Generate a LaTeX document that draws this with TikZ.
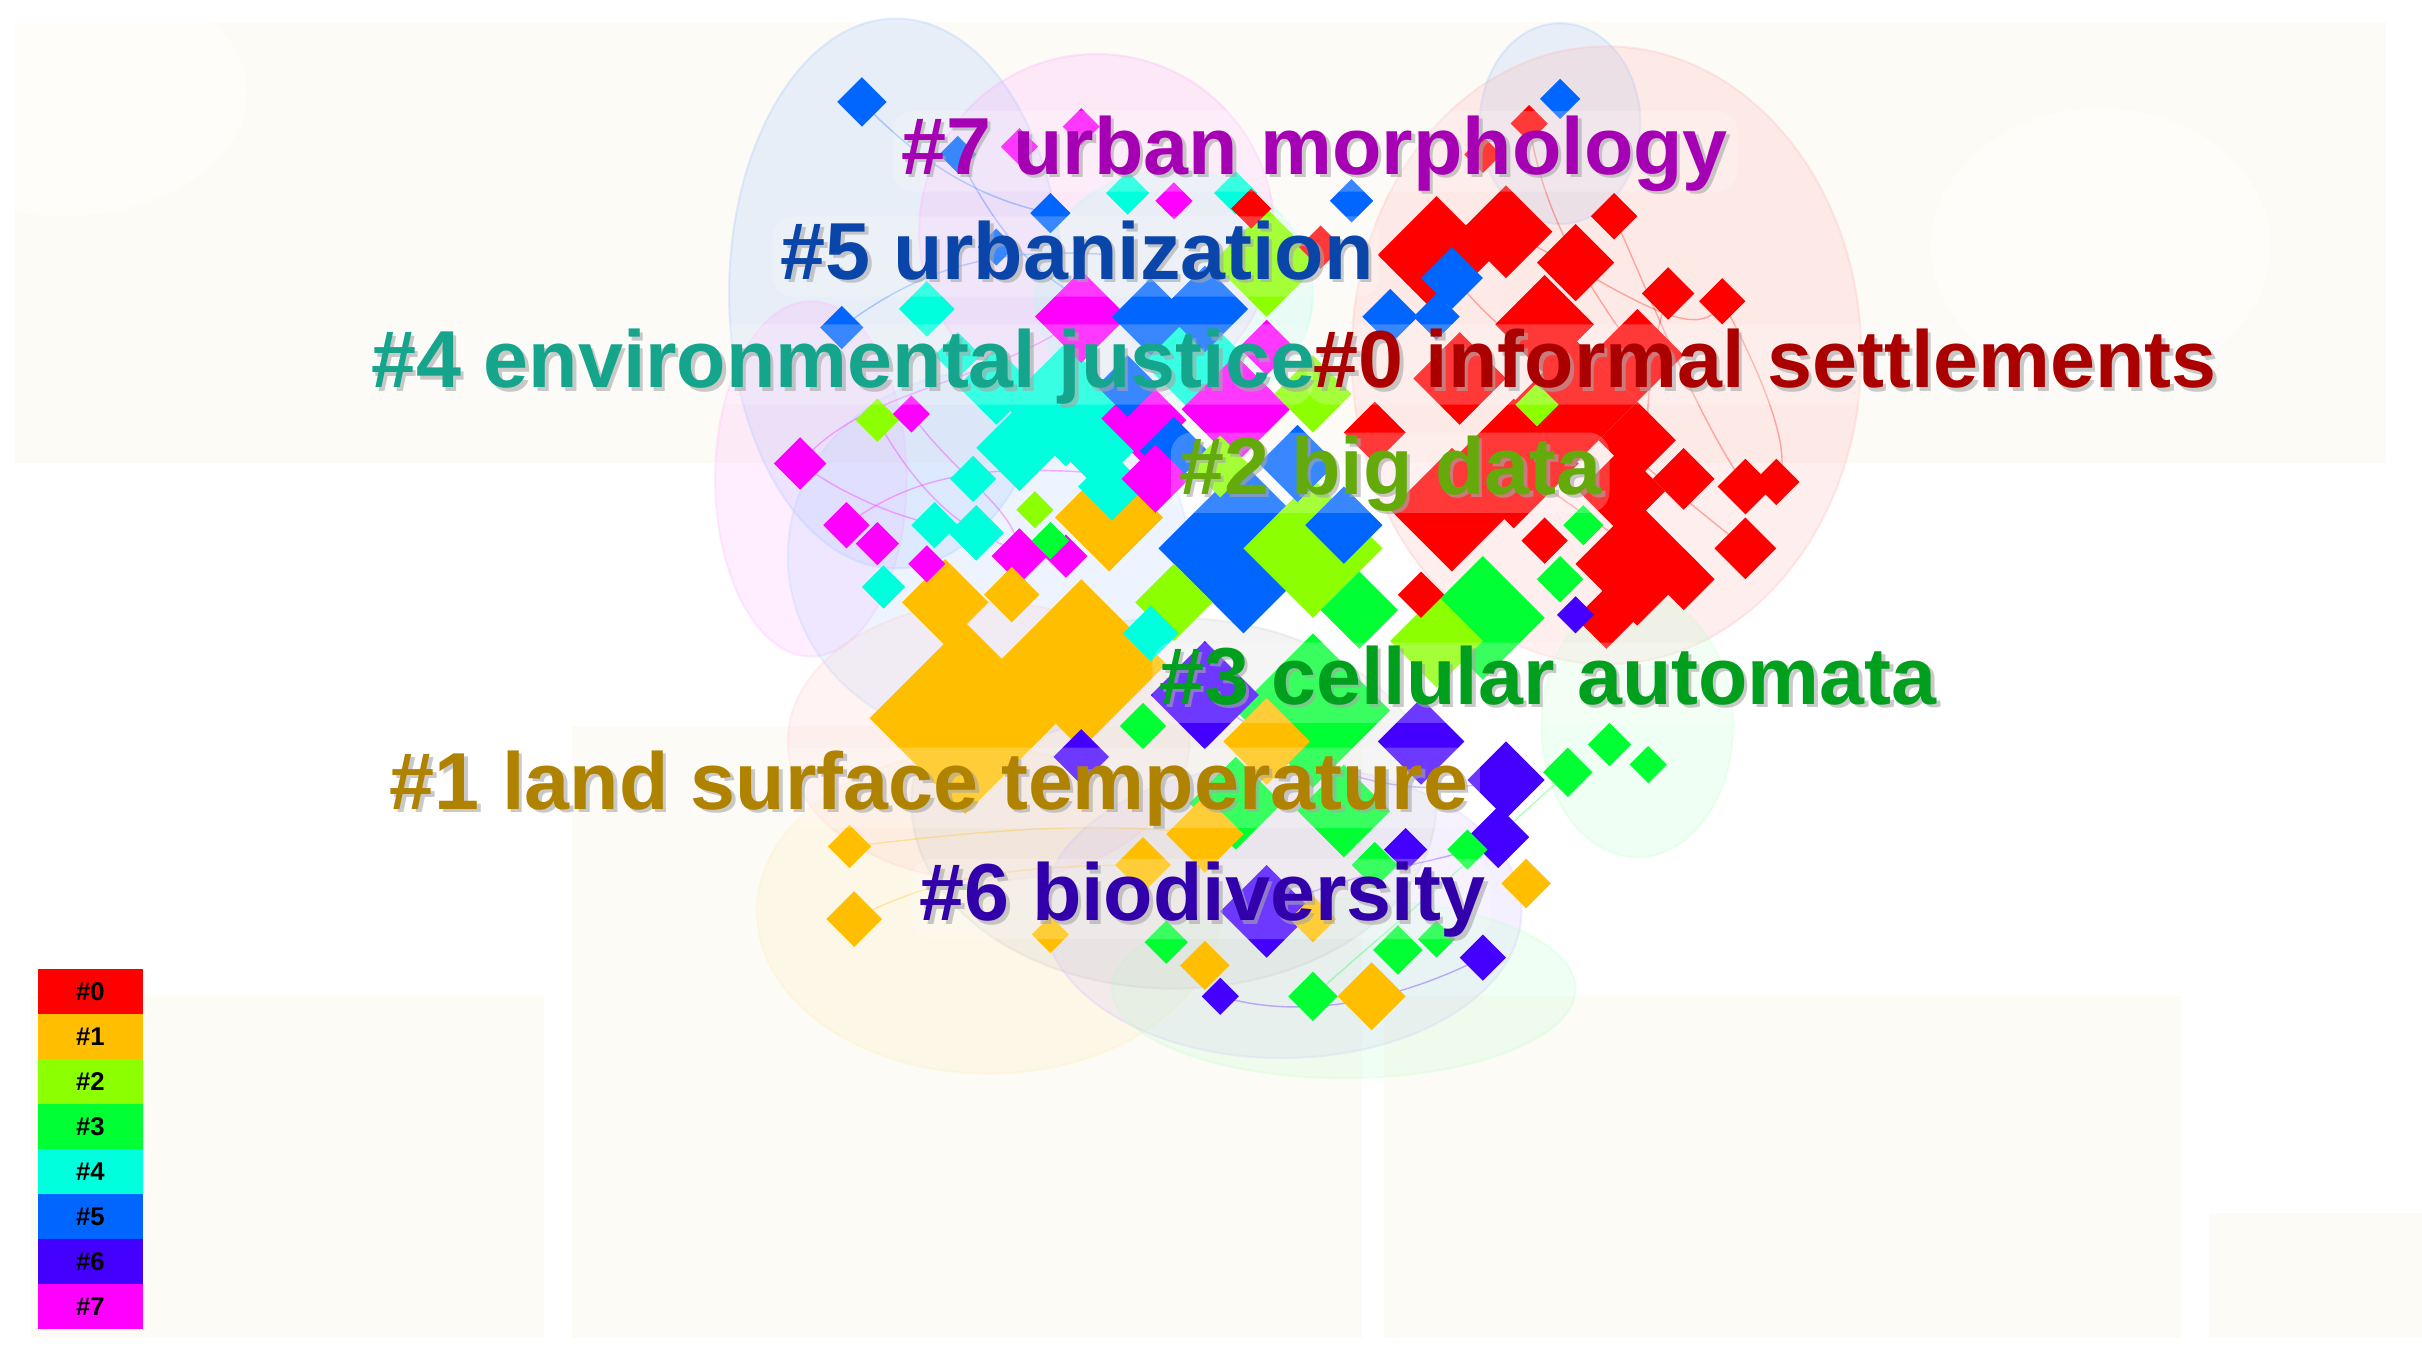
\documentclass[tikz,border=0pt]{standalone}
\usepackage{fontspec}
\setmainfont{Liberation Sans}
\setsansfont{Liberation Sans}
\begin{document}
\definecolor{cA}{HTML}{FF0000}
\definecolor{cB}{HTML}{FFBF00}
\definecolor{cC}{HTML}{8CFF00}
\definecolor{cD}{HTML}{00FF33}
\definecolor{cE}{HTML}{00FFDD}
\definecolor{cF}{HTML}{0066FF}
\definecolor{cG}{HTML}{4400FF}
\definecolor{cH}{HTML}{FF00FF}
\definecolor{tA}{HTML}{AA0000}
\definecolor{tB}{HTML}{AF8200}
\definecolor{tC}{HTML}{64AA0A}
\definecolor{tD}{HTML}{00A01E}
\definecolor{tE}{HTML}{14A58C}
\definecolor{tF}{HTML}{0A46AA}
\definecolor{tG}{HTML}{3200AA}
\definecolor{tH}{HTML}{A500B4}
\definecolor{cream}{RGB}{253,251,246}
\newcommand\dm[4]{\fill[#4] (#1,#2) +(-#3,0) -- +(0,-#3) -- +(#3,0) -- +(0,#3) -- cycle;}
\begin{tikzpicture}[x=0.015446cm,y=-0.015446cm,
  hull/.style={fill=#1,fill opacity=0.22,draw=#1,draw opacity=0.25,line width=0.6pt},
  edge/.style={draw=#1,opacity=0.3,line width=0.4pt},
  lbl/.style={anchor=base west,inner sep=0pt,font=\fontsize{23}{23}\selectfont\bfseries},
  lblbox/.style={fill=white,fill opacity=0.22,rounded corners=6pt},
  leg/.style={minimum width=68*0.015446cm,minimum height=29.1*0.015446cm,inner sep=0pt,font=\fontsize{7.3}{7.3}\selectfont\bfseries}]
\useasboundingbox (0,0) rectangle (1568,873);
\fill[white] (0,0) rectangle (1568,873);
% faint background panels
\fill[cream] (10,14) rectangle (1545,300);
\fill[cream] (20,645) rectangle (352,866);
\fill[cream] (370,470) rectangle (882,866);
\fill[cream] (896,645) rectangle (1412,866);
\fill[cream] (1430,785) rectangle (1568,866);
\fill[white,opacity=0.5] (40,60) ellipse (120 and 80);
\fill[white,opacity=0.5] (1360,160) ellipse (110 and 90);
% cluster hulls
\fill[hull=cF!40] (580,190) ellipse (108 and 178);
\fill[hull=cF!40] (1010,80) ellipse (52 and 65);
\fill[hull=cH!35] (710,150) ellipse (115 and 115);
\fill[hull=cE!35] (760,190) ellipse (90 and 80);
\fill[hull=cA!30] (1040,230) ellipse (165 and 200);
\fill[hull=cH!30] (525,310) ellipse (62 and 115);
\fill[hull=cF!30] (640,360) ellipse (130 and 120);
\fill[hull=cB!30] (640,590) ellipse (150 and 105);
\fill[hull=cA!20] (640,480) ellipse (130 and 90);
\fill[hull=cD!25] (1060,470) ellipse (62 and 85);
\fill[hull=cG!25] (830,590) ellipse (155 and 95);
\fill[hull=cD!25] (870,640) ellipse (150 and 58);
\fill[hull=gray!40] (760,520) ellipse (170 and 120);
% faint links
\draw[edge=cF] (558,66) .. controls (600,110) and (640,130) .. (680,138);
\draw[edge=cF] (545,212) .. controls (600,170) and (650,160) .. (720,165);
\draw[edge=cF] (620,100) .. controls (660,180) and (700,200) .. (745,205);
\draw[edge=cH] (518,300) .. controls (560,250) and (640,250) .. (700,205);
\draw[edge=cH] (548,340) .. controls (600,300) and (660,300) .. (748,310);
\draw[edge=cH] (568,272) .. controls (600,330) and (640,360) .. (690,360);
\draw[edge=cH] (590,268) .. controls (620,310) and (660,330) .. (660,360);
\draw[edge=cH] (518,300) .. controls (560,330) and (600,340) .. (632,345);
\draw[edge=cA] (990,80) .. controls (1000,150) and (1040,200) .. (1060,230);
\draw[edge=cA] (1045,140) .. controls (1080,220) and (1100,270) .. (1130,315);
\draw[edge=cA] (975,150) .. controls (1040,180) and (1100,230) .. (1115,195);
\draw[edge=cA] (1020,260) .. controls (1060,300) and (1100,330) .. (1130,355);
\draw[edge=cA] (980,300) .. controls (1020,330) and (1050,350) .. (1090,375);
\draw[edge=cA] (1080,190) .. controls (1060,250) and (1070,300) .. (1060,365);
\draw[edge=cA] (930,165) .. controls (970,220) and (1000,230) .. (1060,285);
\draw[edge=cA] (1115,195) .. controls (1150,260) and (1160,300) .. (1150,312);
\draw[edge=cG] (780,450) .. controls (850,500) and (900,520) .. (975,505);
\draw[edge=cG] (820,590) .. controls (880,560) and (940,560) .. (970,542);
\draw[edge=cD] (850,645) .. controls (900,600) and (950,560) .. (1015,500);
\draw[edge=cB] (553,595) .. controls (600,570) and (650,560) .. (740,560);
\draw[edge=cB] (550,548) .. controls (620,540) and (700,530) .. (780,540);
\draw[edge=cG] (790,645) .. controls (840,660) and (900,650) .. (960,620);
% diamonds - large first
\dm{625}{465}{62}{cB}
\dm{700}{430}{55}{cB}
\dm{805}{355}{55}{cF}
\dm{850}{460}{50}{cD}
\dm{850}{355}{45}{cC}
\dm{690}{262}{40}{cE}
\dm{960}{400}{40}{cD}
\dm{1020}{260}{40}{cA}
\dm{980}{300}{42}{cA}
\dm{940}{330}{40}{cA}
\dm{1060}{365}{40}{cA}
\dm{930}{165}{38}{cA}
\dm{1000}{210}{32}{cA}
\dm{945}{245}{30}{cA}
\dm{1050}{318}{28}{cA}
\dm{820}{170}{35}{cC}
\dm{770}{230}{35}{cE}
\dm{780}{200}{28}{cF}
\dm{800}{265}{35}{cH}
\dm{740}{272}{28}{cH}
\dm{645}{250}{25}{cE}
\dm{710}{292}{24}{cE}
\dm{760}{292}{22}{cF}
\dm{840}{300}{25}{cF}
\dm{790}{302}{20}{cC}
\dm{718}{335}{35}{cB}
\dm{780}{450}{35}{cG}
\dm{975}{150}{30}{cA}
\dm{1060}{230}{30}{cA}
\dm{700}{205}{30}{cH}
\dm{930}{415}{30}{cC}
\dm{800}{520}{30}{cD}
\dm{870}{525}{30}{cD}
\dm{820}{480}{28}{cB}
\dm{820}{590}{30}{cG}
\dm{920}{480}{28}{cG}
\dm{612}{390}{28}{cB}
\dm{660}{290}{28}{cE}
\dm{1020}{170}{25}{cA}
\dm{1060}{285}{25}{cA}
\dm{745}{205}{25}{cF}
\dm{850}{255}{25}{cC}
\dm{870}{340}{25}{cF}
\dm{760}{390}{25}{cC}
\dm{880}{395}{25}{cD}
\dm{975}{505}{25}{cG}
\dm{780}{540}{25}{cB}
\dm{720}{315}{22}{cE}
\dm{748}{310}{22}{cH}
\dm{888}{645}{22}{cB}
\dm{940}{180}{20}{cF}
\dm{900}{205}{18}{cF}
\dm{730}{250}{20}{cF}
\dm{820}{225}{18}{cH}
\dm{890}{280}{20}{cA}
\dm{1090}{310}{20}{cA}
\dm{1130}{355}{20}{cA}
\dm{1090}{375}{20}{cA}
\dm{1040}{400}{20}{cA}
\dm{970}{542}{20}{cG}
\dm{600}{200}{18}{cE}
\dm{632}{345}{18}{cE}
\dm{660}{360}{18}{cH}
\dm{655}{385}{18}{cB}
\dm{745}{410}{18}{cE}
\dm{1130}{315}{18}{cA}
\dm{700}{490}{18}{cG}
\dm{553}{595}{18}{cB}
\dm{740}{560}{18}{cB}
\dm{1080}{190}{17}{cA}
\dm{518}{300}{17}{cH}
\dm{558}{66}{16}{cF}
\dm{1015}{500}{16}{cD}
\dm{988}{572}{16}{cB}
\dm{905}{615}{16}{cD}
\dm{850}{645}{16}{cD}
\dm{780}{625}{16}{cB}
\dm{1115}{195}{15}{cA}
\dm{1045}{140}{15}{cA}
\dm{1150}{312}{15}{cA}
\dm{1000}{350}{15}{cA}
\dm{920}{385}{15}{cA}
\dm{930}{205}{15}{cF}
\dm{620}{230}{15}{cE}
\dm{605}{340}{15}{cE}
\dm{630}{310}{15}{cE}
\dm{548}{340}{15}{cH}
\dm{1010}{375}{15}{cD}
\dm{740}{470}{15}{cD}
\dm{960}{620}{15}{cG}
\dm{890}{560}{15}{cD}
\dm{850}{595}{15}{cB}
\dm{855}{160}{14}{cA}
\dm{545}{212}{14}{cF}
\dm{875}{130}{14}{cF}
\dm{730}{125}{14}{cE}
\dm{800}{125}{14}{cE}
\dm{568}{272}{14}{cC}
\dm{568}{352}{14}{cH}
\dm{572}{380}{14}{cE}
\dm{690}{360}{14}{cH}
\dm{995}{262}{14}{cC}
\dm{1042}{482}{14}{cD}
\dm{550}{548}{14}{cB}
\dm{755}{610}{14}{cD}
\dm{910}{550}{14}{cG}
\dm{680}{138}{13}{cF}
\dm{810}{135}{13}{cA}
\dm{1025}{340}{13}{cD}
\dm{950}{550}{13}{cD}
\dm{1010}{64}{13}{cF}
\dm{645}{160}{12}{cF}
\dm{620}{100}{12}{cF}
\dm{660}{95}{12}{cH}
\dm{700}{82}{12}{cH}
\dm{760}{130}{12}{cH}
\dm{990}{80}{12}{cA}
\dm{960}{100}{12}{cA}
\dm{590}{268}{12}{cH}
\dm{600}{365}{12}{cH}
\dm{680}{350}{12}{cD}
\dm{670}{330}{12}{cC}
\dm{1020}{398}{12}{cG}
\dm{1067}{495}{12}{cD}
\dm{790}{645}{12}{cG}
\dm{930}{608}{12}{cD}
\dm{680}{605}{12}{cB}
% label boxes
\fill[lblbox] (578,72) rectangle (1125,124);
\fill[lblbox] (500,140) rectangle (893,192);
\fill[lblbox] (235,210) rectangle (850,262);
\fill[lblbox] (846,210) rectangle (1440,262);
\fill[lblbox] (758,280) rectangle (1042,332);
\fill[lblbox] (746,416) rectangle (1260,468);
\fill[lblbox] (248,484) rectangle (958,536);
\fill[lblbox] (590,556) rectangle (965,608);
% labels (shadow, then text)
\foreach \t/\px/\py in {{\#7 urban morphology}/583/113,{\#5 urbanization}/505/181,{\#4 environmental justice}/240/251,{\#0 informal settlements}/850/251,{\#2 big data}/763/320,{\#3 cellular automata}/750/456,{\#1 land surface temperature}/252/524,{\#6 biodiversity}/595/596}{
  \node[lbl,text=black!35,text opacity=0.6] at (\px+2.2,\py+2.2) {\t};
}
\node[lbl,text=tH] (l7) at (583,113) {\#7 urban morphology};
\node[lbl,text=tF] (l5) at (505,181) {\#5 urbanization};
\node[lbl,text=tE] (l4) at (240,251) {\#4 environmental justice};
\node[lbl,text=tA] (l0) at (850,251) {\#0 informal settlements};
\node[lbl,text=tC] (l2) at (763,320) {\#2 big data};
\node[lbl,text=tD] (l3) at (750,456) {\#3 cellular automata};
\node[lbl,text=tB] (l1) at (252,524) {\#1 land surface temperature};
\node[lbl,text=tG] (l6) at (595,596) {\#6 biodiversity};
% legend
\foreach \i/\c in {0/cA,1/cB,2/cC,3/cD,4/cE,5/cF,6/cG,7/cH}{
  \node[leg,fill=\c,anchor=north west] (g\i) at (24,627+29.1*\i) {\#\i};
}
\end{tikzpicture}
\end{document}
